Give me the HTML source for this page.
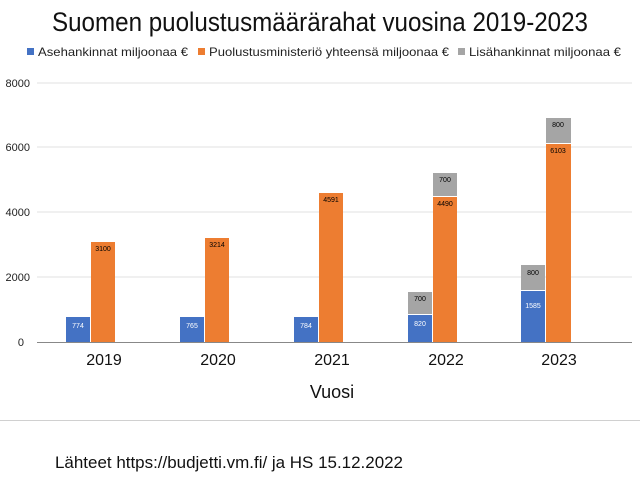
<!DOCTYPE html>
<html><head><meta charset="utf-8"><style>
body{margin:0;background:#fff;width:640px;height:487px;overflow:hidden}
</style></head><body>
<svg width="640" height="487" xmlns="http://www.w3.org/2000/svg" font-family="Liberation Sans, sans-serif">
<text x="320" y="31" font-size="27" text-anchor="middle" textLength="536" lengthAdjust="spacingAndGlyphs" fill="#111">Suomen puolustusmäärärahat vuosina 2019-2023</text>
<g font-size="12" fill="#222">
<rect x="27" y="48" width="7" height="7" fill="#4472c4"/>
<text x="38" y="56" textLength="150" lengthAdjust="spacingAndGlyphs">Asehankinnat miljoonaa €</text>
<rect x="198" y="48" width="7" height="7" fill="#ed7d31"/>
<text x="209" y="56" textLength="240" lengthAdjust="spacingAndGlyphs">Puolustusministeriö yhteensä miljoonaa €</text>
<rect x="458" y="48" width="7" height="7" fill="#a5a5a5"/>
<text x="469" y="56" textLength="152" lengthAdjust="spacingAndGlyphs">Lisähankinnat miljoonaa €</text>
</g>
<g stroke="#e0e0e0" stroke-width="1">
<line x1="37" y1="83" x2="632" y2="83"/><line x1="37" y1="147" x2="632" y2="147"/>
<line x1="37" y1="212" x2="632" y2="212"/><line x1="37" y1="277" x2="632" y2="277"/>
</g>
<g font-size="11" fill="#222" text-anchor="end">
<text x="30" y="87">8000</text><text x="30" y="151">6000</text><text x="30" y="216">4000</text><text x="30" y="281">2000</text><text x="24" y="346">0</text>
</g>
<g font-size="7">
<!-- 2019 -->
<rect x="66" y="317" width="24" height="25" fill="#4472c4"/><text x="78" y="328" fill="#fff" text-anchor="middle">774</text>
<rect x="91" y="242" width="24" height="100" fill="#ed7d31"/><text x="103" y="251" fill="#000" text-anchor="middle">3100</text>
<!-- 2020 -->
<rect x="180" y="317" width="24" height="25" fill="#4472c4"/><text x="192" y="328" fill="#fff" text-anchor="middle">765</text>
<rect x="205" y="238" width="24" height="104" fill="#ed7d31"/><text x="217" y="247" fill="#000" text-anchor="middle">3214</text>
<!-- 2021 -->
<rect x="294" y="317" width="24" height="25" fill="#4472c4"/><text x="306" y="328" fill="#fff" text-anchor="middle">784</text>
<rect x="319" y="193" width="24" height="149" fill="#ed7d31"/><text x="331" y="202" fill="#000" text-anchor="middle">4591</text>
<!-- 2022 -->
<rect x="408" y="315" width="24" height="27" fill="#4472c4"/><text x="420" y="326" fill="#fff" text-anchor="middle">820</text>
<rect x="408" y="292" width="24" height="22" fill="#a5a5a5"/><text x="420" y="301" fill="#000" text-anchor="middle">700</text>
<rect x="433" y="197" width="24" height="145" fill="#ed7d31"/><text x="445" y="206" fill="#000" text-anchor="middle">4490</text>
<rect x="433" y="173" width="24" height="23" fill="#a5a5a5"/><text x="445" y="182" fill="#000" text-anchor="middle">700</text>
<!-- 2023 -->
<rect x="521" y="291" width="24" height="51" fill="#4472c4"/><text x="533" y="308" fill="#fff" text-anchor="middle">1585</text>
<rect x="521" y="265" width="24" height="25" fill="#a5a5a5"/><text x="533" y="275" fill="#000" text-anchor="middle">800</text>
<rect x="546" y="144" width="25" height="198" fill="#ed7d31"/><text x="558" y="153" fill="#000" text-anchor="middle">6103</text>
<rect x="546" y="118" width="25" height="25" fill="#a5a5a5"/><text x="558" y="127" fill="#000" text-anchor="middle">800</text>
</g>
<line x1="37" y1="342.5" x2="632" y2="342.5" stroke="#888" stroke-width="1"/>
<g font-size="16" fill="#111" text-anchor="middle">
<text x="104" y="365">2019</text><text x="218" y="365">2020</text><text x="332" y="365">2021</text><text x="446" y="365">2022</text><text x="559" y="365">2023</text>
</g>
<text x="332" y="398" font-size="18" text-anchor="middle" fill="#111">Vuosi</text>
<line x1="0" y1="420.5" x2="640" y2="420.5" stroke="#d0d0d0"/>
<text x="55" y="468" font-size="17" fill="#111" textLength="348" lengthAdjust="spacingAndGlyphs">Lähteet https://budjetti.vm.fi/ ja HS 15.12.2022</text>
</svg>
</body></html>
